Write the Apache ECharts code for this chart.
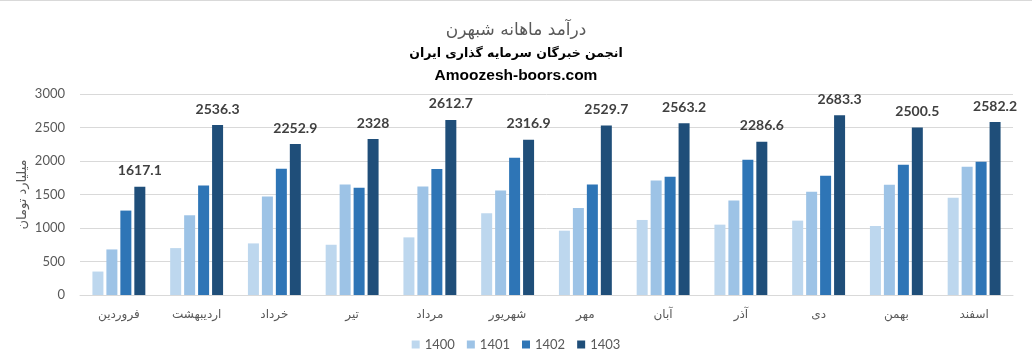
<!DOCTYPE html>
<html><head><meta charset="utf-8">
<script src="https://cdn.jsdelivr.net/npm/echarts@6/dist/echarts.min.js"></script>
<style>html,body{margin:0;padding:0;background:#fff}#c{width:1032px;height:357px}</style>
</head><body><div id="c"></div>
<script>
const months = ['فروردین','اردیبهشت','خرداد','تیر','مرداد','شهریور','مهر','آبان','آذر','دی','بهمن','اسفند'];
const seriesNames = ['1400','1401','1402','1403'];
const v1400 = [350, 700, 770, 750, 860, 1220, 960, 1120, 1050, 1110, 1030, 1450];
const v1401 = [680, 1190, 1470, 1650, 1620, 1560, 1300, 1710, 1410, 1540, 1645, 1915];
const v1402 = [1260, 1635, 1885, 1600, 1880, 2050, 1650, 1765, 2020, 1780, 1945, 1990];
const v1403 = [1617.1, 2536.3, 2252.9, 2328, 2612.7, 2316.9, 2529.7, 2563.2, 2286.6, 2683.3, 2500.5, 2582.2];
const yTicks = [0, 500, 1000, 1500, 2000, 2500, 3000];
const colors = ['#BDD7EE', '#9DC3E6', '#2E75B6', '#1F4E79'];
const titleText = 'درآمد ماهانه شبهرن';
const subText1 = 'انجمن خبرگان سرمایه گذاری ایران';
const subText2 = 'Amoozesh-boors.com';
const yName = 'میلیارد تومان';

const faFont = 'Tahoma, "DejaVu Sans", sans-serif';
const numFont = 'Lato, "Open Sans", sans-serif';
const allData = [v1400, v1401, v1402, v1403];

const chart = echarts.init(document.getElementById('c'), null, {renderer: 'canvas'});
chart.setOption({
  animation: false,
  color: colors,
  graphic: [{type: 'rect', left: 0, top: 0, shape: {width: 1032, height: 1}, style: {fill: '#D9D9D9'}, silent: true}],
  title: [
    {text: titleText, left: 'center', top: 17, textStyle: {fontFamily: faFont, fontSize: 17, fontWeight: 'normal', color: '#595959'}},
    {text: subText1, left: 'center', top: 42, textStyle: {fontFamily: faFont, fontSize: 12.5, fontWeight: 'bold', color: '#000'}},
    {text: subText2, left: 'center', top: 63, textStyle: {fontFamily: '"Liberation Sans", Arial, sans-serif', fontSize: 15.5, fontWeight: 'bold', color: '#000'}}
  ],
  legend: {
    bottom: 1, left: 'center', itemWidth: 8, itemHeight: 8, itemGap: 12,
    icon: 'rect',
    textStyle: {fontFamily: numFont, fontSize: 13, color: '#595959'},
    data: seriesNames
  },
  grid: {left: 80, right: 19, top: 94, bottom: 62, containLabel: false},
  xAxis: {
    type: 'category', data: months,
    axisLine: {lineStyle: {color: '#D9D9D9'}},
    axisTick: {show: false},
    axisLabel: {fontFamily: faFont, fontSize: 12, color: '#595959', margin: 14}
  },
  yAxis: {
    type: 'value', min: 0, max: 3000, interval: 500,
    name: yName, nameLocation: 'middle', nameGap: 51, nameRotate: 90, nameMoveOverlap: false,
    nameTextStyle: {fontFamily: faFont, fontSize: 13, color: '#595959'},
    axisLine: {show: false}, axisTick: {show: false},
    axisLabel: {fontFamily: numFont, fontSize: 13, color: '#595959', margin: 15,
      formatter: v => yTicks.includes(v) ? String(v) : ''},
    splitLine: {lineStyle: {color: '#D9D9D9'}}
  },
  series: seriesNames.map((n, i) => ({
    name: n, type: 'bar', data: allData[i],
    barWidth: 11, barGap: '27%',
    label: i === 3 ? {show: true, position: 'top', distance: 9,
      fontFamily: numFont, fontSize: 14, fontWeight: 'bold', color: '#404040'} : {show: false}
  }))
});
</script></body></html>
